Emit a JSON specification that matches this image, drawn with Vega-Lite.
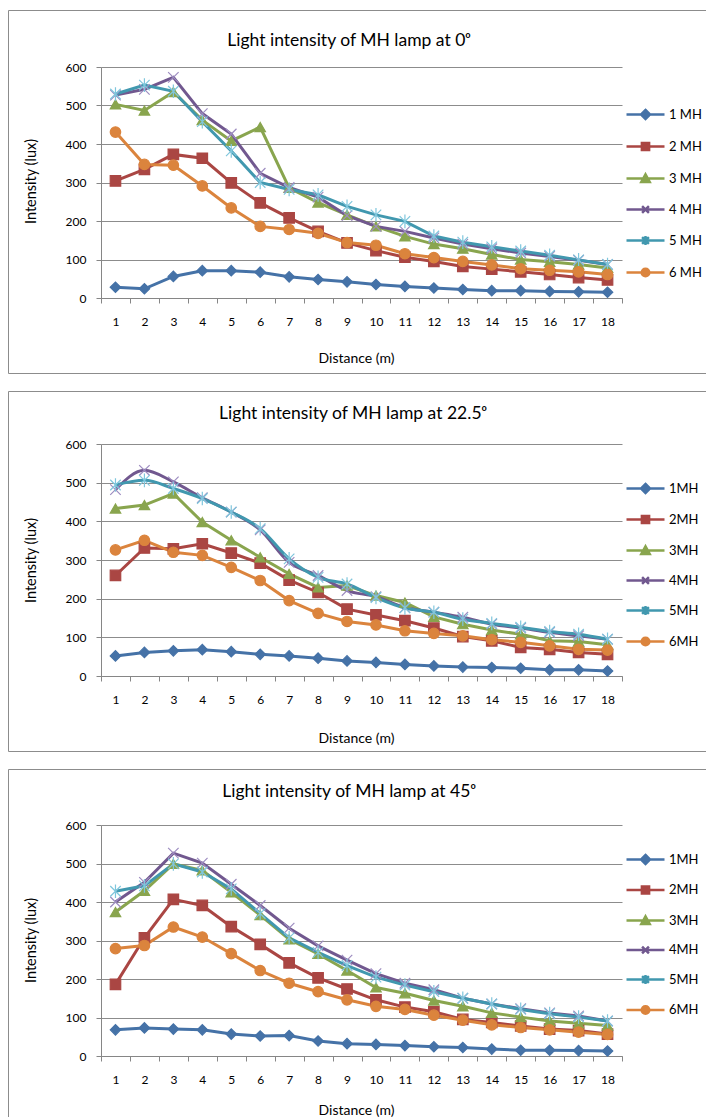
{
  "$schema": "https://vega.github.io/schema/vega-lite/v6.json",
  "background": "white",
  "padding": {"left": 7, "top": 9, "right": 0, "bottom": 0},
  "spacing": 16,
  "resolve": {"scale": {"x": "independent", "y": "independent", "color": "independent", "fill": "independent", "stroke": "independent", "shape": "independent"}},
  "config": {
    "view": {"stroke": "#8c8c8c", "strokeWidth": 1},
    "axis": {"domainColor": "#868686", "tickColor": "#868686", "gridColor": "#8c8c8c", "gridOpacity": 1, "labelFont": "Lato", "labelFontSize": 12, "labelColor": "#000", "titleFont": "Lato", "titleFontSize": 14, "titleFontWeight": "normal", "titleColor": "#000", "tickSize": 5},
    "legend": {"labelFont": "Lato", "labelFontSize": 13, "labelColor": "#000"},
    "title": {"font": "Lato", "fontSize": 17.5, "fontWeight": "normal", "color": "#000"}
  },
  "datasets": {
    "a0": [
      {"lamp":1,"dist":1,"lux":28},{"lamp":1,"dist":2,"lux":24},{"lamp":1,"dist":3,"lux":56},{"lamp":1,"dist":4,"lux":71},{"lamp":1,"dist":5,"lux":71},{"lamp":1,"dist":6,"lux":67},{"lamp":1,"dist":7,"lux":55},{"lamp":1,"dist":8,"lux":48},{"lamp":1,"dist":9,"lux":42},{"lamp":1,"dist":10,"lux":35},{"lamp":1,"dist":11,"lux":30},{"lamp":1,"dist":12,"lux":26},{"lamp":1,"dist":13,"lux":22},{"lamp":1,"dist":14,"lux":19},{"lamp":1,"dist":15,"lux":19},{"lamp":1,"dist":16,"lux":17},{"lamp":1,"dist":17,"lux":16},{"lamp":1,"dist":18,"lux":15},
      {"lamp":2,"dist":1,"lux":304},{"lamp":2,"dist":2,"lux":334},{"lamp":2,"dist":3,"lux":373},{"lamp":2,"dist":4,"lux":363},{"lamp":2,"dist":5,"lux":299},{"lamp":2,"dist":6,"lux":247},{"lamp":2,"dist":7,"lux":208},{"lamp":2,"dist":8,"lux":173},{"lamp":2,"dist":9,"lux":143},{"lamp":2,"dist":10,"lux":123},{"lamp":2,"dist":11,"lux":106},{"lamp":2,"dist":12,"lux":95},{"lamp":2,"dist":13,"lux":82},{"lamp":2,"dist":14,"lux":75},{"lamp":2,"dist":15,"lux":68},{"lamp":2,"dist":16,"lux":61},{"lamp":2,"dist":17,"lux":53},{"lamp":2,"dist":18,"lux":47},
      {"lamp":3,"dist":1,"lux":503},{"lamp":3,"dist":2,"lux":487},{"lamp":3,"dist":3,"lux":535},{"lamp":3,"dist":4,"lux":462},{"lamp":3,"dist":5,"lux":408},{"lamp":3,"dist":6,"lux":444},{"lamp":3,"dist":7,"lux":286},{"lamp":3,"dist":8,"lux":248},{"lamp":3,"dist":9,"lux":216},{"lamp":3,"dist":10,"lux":186},{"lamp":3,"dist":11,"lux":160},{"lamp":3,"dist":12,"lux":140},{"lamp":3,"dist":13,"lux":128},{"lamp":3,"dist":14,"lux":113},{"lamp":3,"dist":15,"lux":100},{"lamp":3,"dist":16,"lux":94},{"lamp":3,"dist":17,"lux":87},{"lamp":3,"dist":18,"lux":78},
      {"lamp":4,"dist":1,"lux":527},{"lamp":4,"dist":2,"lux":542},{"lamp":4,"dist":3,"lux":573},{"lamp":4,"dist":4,"lux":479},{"lamp":4,"dist":5,"lux":426},{"lamp":4,"dist":6,"lux":324},{"lamp":4,"dist":7,"lux":287},{"lamp":4,"dist":8,"lux":262},{"lamp":4,"dist":9,"lux":214},{"lamp":4,"dist":10,"lux":186},{"lamp":4,"dist":11,"lux":173},{"lamp":4,"dist":12,"lux":156},{"lamp":4,"dist":13,"lux":140},{"lamp":4,"dist":14,"lux":128},{"lamp":4,"dist":15,"lux":117},{"lamp":4,"dist":16,"lux":108},{"lamp":4,"dist":17,"lux":98},{"lamp":4,"dist":18,"lux":87},
      {"lamp":5,"dist":1,"lux":530},{"lamp":5,"dist":2,"lux":553},{"lamp":5,"dist":3,"lux":537},{"lamp":5,"dist":4,"lux":458},{"lamp":5,"dist":5,"lux":382},{"lamp":5,"dist":6,"lux":300},{"lamp":5,"dist":7,"lux":282},{"lamp":5,"dist":8,"lux":268},{"lamp":5,"dist":9,"lux":238},{"lamp":5,"dist":10,"lux":216},{"lamp":5,"dist":11,"lux":199},{"lamp":5,"dist":12,"lux":161},{"lamp":5,"dist":13,"lux":145},{"lamp":5,"dist":14,"lux":133},{"lamp":5,"dist":15,"lux":122},{"lamp":5,"dist":16,"lux":111},{"lamp":5,"dist":17,"lux":99},{"lamp":5,"dist":18,"lux":87},
      {"lamp":6,"dist":1,"lux":431},{"lamp":6,"dist":2,"lux":347},{"lamp":6,"dist":3,"lux":345},{"lamp":6,"dist":4,"lux":291},{"lamp":6,"dist":5,"lux":234},{"lamp":6,"dist":6,"lux":186},{"lamp":6,"dist":7,"lux":178},{"lamp":6,"dist":8,"lux":168},{"lamp":6,"dist":9,"lux":144},{"lamp":6,"dist":10,"lux":137},{"lamp":6,"dist":11,"lux":115},{"lamp":6,"dist":12,"lux":105},{"lamp":6,"dist":13,"lux":95},{"lamp":6,"dist":14,"lux":86},{"lamp":6,"dist":15,"lux":76},{"lamp":6,"dist":16,"lux":72},{"lamp":6,"dist":17,"lux":68},{"lamp":6,"dist":18,"lux":61}
    ],
    "a22": [
      {"lamp":1,"dist":1,"lux":52},{"lamp":1,"dist":2,"lux":61},{"lamp":1,"dist":3,"lux":65},{"lamp":1,"dist":4,"lux":68},{"lamp":1,"dist":5,"lux":63},{"lamp":1,"dist":6,"lux":56},{"lamp":1,"dist":7,"lux":52},{"lamp":1,"dist":8,"lux":46},{"lamp":1,"dist":9,"lux":39},{"lamp":1,"dist":10,"lux":35},{"lamp":1,"dist":11,"lux":30},{"lamp":1,"dist":12,"lux":26},{"lamp":1,"dist":13,"lux":23},{"lamp":1,"dist":14,"lux":22},{"lamp":1,"dist":15,"lux":20},{"lamp":1,"dist":16,"lux":16},{"lamp":1,"dist":17,"lux":16},{"lamp":1,"dist":18,"lux":13},
      {"lamp":2,"dist":1,"lux":260},{"lamp":2,"dist":2,"lux":331},{"lamp":2,"dist":3,"lux":329},{"lamp":2,"dist":4,"lux":342},{"lamp":2,"dist":5,"lux":318},{"lamp":2,"dist":6,"lux":292},{"lamp":2,"dist":7,"lux":248},{"lamp":2,"dist":8,"lux":216},{"lamp":2,"dist":9,"lux":173},{"lamp":2,"dist":10,"lux":158},{"lamp":2,"dist":11,"lux":143},{"lamp":2,"dist":12,"lux":124},{"lamp":2,"dist":13,"lux":102},{"lamp":2,"dist":14,"lux":91},{"lamp":2,"dist":15,"lux":74},{"lamp":2,"dist":16,"lux":69},{"lamp":2,"dist":17,"lux":61},{"lamp":2,"dist":18,"lux":56},
      {"lamp":3,"dist":1,"lux":433},{"lamp":3,"dist":2,"lux":442},{"lamp":3,"dist":3,"lux":472},{"lamp":3,"dist":4,"lux":398},{"lamp":3,"dist":5,"lux":351},{"lamp":3,"dist":6,"lux":307},{"lamp":3,"dist":7,"lux":264},{"lamp":3,"dist":8,"lux":229},{"lamp":3,"dist":9,"lux":234},{"lamp":3,"dist":10,"lux":208},{"lamp":3,"dist":11,"lux":190},{"lamp":3,"dist":12,"lux":153},{"lamp":3,"dist":13,"lux":134},{"lamp":3,"dist":14,"lux":119},{"lamp":3,"dist":15,"lux":108},{"lamp":3,"dist":16,"lux":91},{"lamp":3,"dist":17,"lux":89},{"lamp":3,"dist":18,"lux":81},
      {"lamp":4,"dist":1,"lux":482},{"lamp":4,"dist":2,"lux":532},{"lamp":4,"dist":3,"lux":502},{"lamp":4,"dist":4,"lux":461},{"lamp":4,"dist":5,"lux":424},{"lamp":4,"dist":6,"lux":378},{"lamp":4,"dist":7,"lux":294},{"lamp":4,"dist":8,"lux":260},{"lamp":4,"dist":9,"lux":221},{"lamp":4,"dist":10,"lux":205},{"lamp":4,"dist":11,"lux":177},{"lamp":4,"dist":12,"lux":165},{"lamp":4,"dist":13,"lux":152},{"lamp":4,"dist":14,"lux":134},{"lamp":4,"dist":15,"lux":124},{"lamp":4,"dist":16,"lux":113},{"lamp":4,"dist":17,"lux":104},{"lamp":4,"dist":18,"lux":95},
      {"lamp":5,"dist":1,"lux":494},{"lamp":5,"dist":2,"lux":506},{"lamp":5,"dist":3,"lux":485},{"lamp":5,"dist":4,"lux":459},{"lamp":5,"dist":5,"lux":424},{"lamp":5,"dist":6,"lux":381},{"lamp":5,"dist":7,"lux":303},{"lamp":5,"dist":8,"lux":255},{"lamp":5,"dist":9,"lux":238},{"lamp":5,"dist":10,"lux":203},{"lamp":5,"dist":11,"lux":176},{"lamp":5,"dist":12,"lux":165},{"lamp":5,"dist":13,"lux":147},{"lamp":5,"dist":14,"lux":136},{"lamp":5,"dist":15,"lux":126},{"lamp":5,"dist":16,"lux":115},{"lamp":5,"dist":17,"lux":108},{"lamp":5,"dist":18,"lux":95},
      {"lamp":6,"dist":1,"lux":326},{"lamp":6,"dist":2,"lux":351},{"lamp":6,"dist":3,"lux":320},{"lamp":6,"dist":4,"lux":312},{"lamp":6,"dist":5,"lux":281},{"lamp":6,"dist":6,"lux":247},{"lamp":6,"dist":7,"lux":195},{"lamp":6,"dist":8,"lux":162},{"lamp":6,"dist":9,"lux":141},{"lamp":6,"dist":10,"lux":132},{"lamp":6,"dist":11,"lux":117},{"lamp":6,"dist":12,"lux":110},{"lamp":6,"dist":13,"lux":104},{"lamp":6,"dist":14,"lux":94},{"lamp":6,"dist":15,"lux":87},{"lamp":6,"dist":16,"lux":78},{"lamp":6,"dist":17,"lux":69},{"lamp":6,"dist":18,"lux":67}
    ],
    "a45": [
      {"lamp":1,"dist":1,"lux":68},{"lamp":1,"dist":2,"lux":73},{"lamp":1,"dist":3,"lux":70},{"lamp":1,"dist":4,"lux":68},{"lamp":1,"dist":5,"lux":57},{"lamp":1,"dist":6,"lux":52},{"lamp":1,"dist":7,"lux":53},{"lamp":1,"dist":8,"lux":39},{"lamp":1,"dist":9,"lux":32},{"lamp":1,"dist":10,"lux":30},{"lamp":1,"dist":11,"lux":27},{"lamp":1,"dist":12,"lux":24},{"lamp":1,"dist":13,"lux":22},{"lamp":1,"dist":14,"lux":18},{"lamp":1,"dist":15,"lux":15},{"lamp":1,"dist":16,"lux":15},{"lamp":1,"dist":17,"lux":14},{"lamp":1,"dist":18,"lux":13},
      {"lamp":2,"dist":1,"lux":186},{"lamp":2,"dist":2,"lux":307},{"lamp":2,"dist":3,"lux":407},{"lamp":2,"dist":4,"lux":391},{"lamp":2,"dist":5,"lux":336},{"lamp":2,"dist":6,"lux":290},{"lamp":2,"dist":7,"lux":242},{"lamp":2,"dist":8,"lux":203},{"lamp":2,"dist":9,"lux":174},{"lamp":2,"dist":10,"lux":146},{"lamp":2,"dist":11,"lux":127},{"lamp":2,"dist":12,"lux":115},{"lamp":2,"dist":13,"lux":95},{"lamp":2,"dist":14,"lux":87},{"lamp":2,"dist":15,"lux":78},{"lamp":2,"dist":16,"lux":70},{"lamp":2,"dist":17,"lux":66},{"lamp":2,"dist":18,"lux":57},
      {"lamp":3,"dist":1,"lux":374},{"lamp":3,"dist":2,"lux":429},{"lamp":3,"dist":3,"lux":499},{"lamp":3,"dist":4,"lux":482},{"lamp":3,"dist":5,"lux":425},{"lamp":3,"dist":6,"lux":366},{"lamp":3,"dist":7,"lux":303},{"lamp":3,"dist":8,"lux":265},{"lamp":3,"dist":9,"lux":222},{"lamp":3,"dist":10,"lux":178},{"lamp":3,"dist":11,"lux":163},{"lamp":3,"dist":12,"lux":144},{"lamp":3,"dist":13,"lux":129},{"lamp":3,"dist":14,"lux":112},{"lamp":3,"dist":15,"lux":101},{"lamp":3,"dist":16,"lux":91},{"lamp":3,"dist":17,"lux":85},{"lamp":3,"dist":18,"lux":79},
      {"lamp":4,"dist":1,"lux":400},{"lamp":4,"dist":2,"lux":451},{"lamp":4,"dist":3,"lux":527},{"lamp":4,"dist":4,"lux":501},{"lamp":4,"dist":5,"lux":446},{"lamp":4,"dist":6,"lux":391},{"lamp":4,"dist":7,"lux":332},{"lamp":4,"dist":8,"lux":286},{"lamp":4,"dist":9,"lux":249},{"lamp":4,"dist":10,"lux":214},{"lamp":4,"dist":11,"lux":189},{"lamp":4,"dist":12,"lux":172},{"lamp":4,"dist":13,"lux":150},{"lamp":4,"dist":14,"lux":135},{"lamp":4,"dist":15,"lux":123},{"lamp":4,"dist":16,"lux":112},{"lamp":4,"dist":17,"lux":104},{"lamp":4,"dist":18,"lux":91},
      {"lamp":5,"dist":1,"lux":428},{"lamp":5,"dist":2,"lux":442},{"lamp":5,"dist":3,"lux":499},{"lamp":5,"dist":4,"lux":478},{"lamp":5,"dist":5,"lux":434},{"lamp":5,"dist":6,"lux":370},{"lamp":5,"dist":7,"lux":307},{"lamp":5,"dist":8,"lux":269},{"lamp":5,"dist":9,"lux":235},{"lamp":5,"dist":10,"lux":205},{"lamp":5,"dist":11,"lux":184},{"lamp":5,"dist":12,"lux":167},{"lamp":5,"dist":13,"lux":150},{"lamp":5,"dist":14,"lux":135},{"lamp":5,"dist":15,"lux":121},{"lamp":5,"dist":16,"lux":110},{"lamp":5,"dist":17,"lux":101},{"lamp":5,"dist":18,"lux":91},
      {"lamp":6,"dist":1,"lux":279},{"lamp":6,"dist":2,"lux":287},{"lamp":6,"dist":3,"lux":335},{"lamp":6,"dist":4,"lux":309},{"lamp":6,"dist":5,"lux":266},{"lamp":6,"dist":6,"lux":222},{"lamp":6,"dist":7,"lux":189},{"lamp":6,"dist":8,"lux":167},{"lamp":6,"dist":9,"lux":146},{"lamp":6,"dist":10,"lux":129},{"lamp":6,"dist":11,"lux":121},{"lamp":6,"dist":12,"lux":106},{"lamp":6,"dist":13,"lux":93},{"lamp":6,"dist":14,"lux":81},{"lamp":6,"dist":15,"lux":74},{"lamp":6,"dist":16,"lux":68},{"lamp":6,"dist":17,"lux":62},{"lamp":6,"dist":18,"lux":56}
    ]
  },
  "vconcat": [
    {
      "data": {"name": "a0"},
      "width": 698, "height": 363,
      "title": {"text": "Light intensity of MH lamp at 0ᵒ", "offset": -31, "dy": 17, "baseline": "middle", "anchor": "middle", "dx": -8},
      "resolve": {"scale": {"color": "independent", "stroke": "independent", "shape": "independent"}},
      "encoding": {
        "x": {"field": "dist", "type": "ordinal", "bandPosition": 0.5,
              "scale": {"type": "band", "range": [93, 614], "paddingInner": 0, "paddingOuter": 0},
              "axis": {"offset": -75, "title": "Distance (m)", "titleX": 348, "titleY": 60, "titleBaseline": "middle", "tickBand": "extent", "labelAngle": 0, "labelPadding": 13, "grid": false}},
        "y": {"field": "lux", "type": "quantitative",
              "scale": {"domain": [0, 600], "range": [288, 57]},
              "axis": {"offset": -93, "values": [0,100,200,300,400,500,600], "title": "Intensity (lux)", "titleFontSize": 14.5, "titleX": -70, "titleY": 171, "titleAngle": -90, "titleBaseline": "middle", "titleAlign": "center", "labelPadding": 10, "grid": true}}
      },
      "layer": [
        {"mark": {"type": "line", "strokeWidth": 3},
         "encoding": {"color": {"field": "lamp", "type": "nominal", "scale": {"domain": [1,2,3,4,5,6], "range": ["#4572A7","#AA4643","#89A54E","#71588F","#4198AF","#DB843D"]}, "legend": null}}},
        {"mark": {"type": "point", "filled": true, "size": 110, "strokeWidth": 1.2, "opacity": 1},
         "encoding": {
           "fill": {"field": "lamp", "type": "nominal", "scale": {"domain": [1,2,3,4,5,6], "range": ["#4572A7","#AA4643","#89A54E","#71588F","#4198AF","#DB843D"]}, "legend": null},
           "stroke": {"field": "lamp", "type": "nominal", "scale": {"domain": [1,2,3,4,5,6], "range": ["#4572A7","#AA4643","#89A54E","#9D8CC0","#7FC6DC","#DB843D"]}, "legend": null},
           "shape": {"field": "lamp", "type": "nominal", "scale": {"domain": [1,2,3,4,5,6], "range": ["diamond","square","triangle-up","M-1,-1L1,1M-1,1L1,-1","M-1,-1L1,1M-1,1L1,-1M0,-1.3L0,1.3","circle"]}, "legend": null}}},
        {"transform": [{"filter": "false"}],
         "mark": {"type": "point", "filled": true, "opacity": 1},
         "encoding": {
           "color": {"field": "lamp", "type": "nominal", "scale": {"domain": [1,2,3,4,5,6], "range": ["#4572A7","#AA4643","#89A54E","#71588F","#4198AF","#DB843D"]},
             "legend": {"orient": "none", "legendX": 626, "legendY": 93, "title": null, "padding": 0, "symbolSize": 400, "symbolStrokeWidth": 2.5, "rowPadding": 11, "labelOffset": 12, "labelExpr": "datum.value + ' MH'"}},
           "stroke": {"field": "lamp", "type": "nominal", "scale": {"domain": [1,2,3,4,5,6], "range": ["#4572A7","#AA4643","#89A54E","#71588F","#4198AF","#DB843D"]},
             "legend": {"orient": "none", "legendX": 626, "legendY": 93, "title": null, "padding": 0, "symbolSize": 400, "symbolStrokeWidth": 2.5, "rowPadding": 11, "labelOffset": 12, "labelExpr": "datum.value + ' MH'"}},
           "shape": {"field": "lamp", "type": "nominal", "scale": {"domain": [1,2,3,4,5,6], "range": ["M-1.9,0L1.9,0M0,-0.45L0.45,0L0,0.45L-0.45,0Z","M-1.9,0L1.9,0M-0.36,-0.36L0.36,-0.36L0.36,0.36L-0.36,0.36Z","M-1.9,0L1.9,0M0,-0.42L0.42,0.34L-0.42,0.34Z","M-1.9,0L1.9,0M-0.34,-0.34L0.34,0.34M-0.34,0.34L0.34,-0.34","M-1.9,0L1.9,0M-0.34,-0.34L0.34,0.34M-0.34,0.34L0.34,-0.34M0,-0.44L0,0.44","M-1.9,0L1.9,0M0.38,0A0.38,0.38 0 1,1 -0.38,0A0.38,0.38 0 1,1 0.38,0Z"]},
             "legend": {"orient": "none", "legendX": 626, "legendY": 93, "title": null, "padding": 0, "symbolSize": 400, "symbolStrokeWidth": 2.5, "rowPadding": 11, "labelOffset": 12, "labelExpr": "datum.value + ' MH'"}}}}
      ]
    },
    {
      "data": {"name": "a22"},
      "width": 698, "height": 360,
      "title": {"text": "Light intensity of MH lamp at 22.5ᵒ", "offset": -25, "dy": 15, "baseline": "middle", "anchor": "middle", "dx": -4},
      "resolve": {"scale": {"color": "independent", "stroke": "independent", "shape": "independent"}},
      "encoding": {
        "x": {"field": "dist", "type": "ordinal", "bandPosition": 0.5,
              "scale": {"type": "band", "range": [93, 614], "paddingInner": 0, "paddingOuter": 0},
              "axis": {"offset": -75, "title": "Distance (m)", "titleX": 348, "titleY": 62, "titleBaseline": "middle", "tickBand": "extent", "labelAngle": 0, "labelPadding": 13, "grid": false}},
        "y": {"field": "lux", "type": "quantitative",
              "scale": {"domain": [0, 600], "range": [285, 53]},
              "axis": {"offset": -93, "values": [0,100,200,300,400,500,600], "title": "Intensity (lux)", "titleFontSize": 14.5, "titleX": -70, "titleY": 169, "titleAngle": -90, "titleBaseline": "middle", "titleAlign": "center", "labelPadding": 10, "grid": true}}
      },
      "layer": [
        {"transform": [{"filter": "datum.lamp != 4 && datum.lamp != 5"}],
         "mark": {"type": "line", "strokeWidth": 3},
         "encoding": {"color": {"field": "lamp", "type": "nominal", "scale": {"domain": [1,2,3,4,5,6], "range": ["#4572A7","#AA4643","#89A54E","#71588F","#4198AF","#DB843D"]}, "legend": null}}},
        {"transform": [{"filter": "datum.lamp == 4 || datum.lamp == 5"}],
         "mark": {"type": "line", "strokeWidth": 3, "interpolate": "monotone"},
         "encoding": {"stroke": {"field": "lamp", "type": "nominal", "scale": {"domain": [1,2,3,4,5,6], "range": ["#4572A7","#AA4643","#89A54E","#71588F","#4198AF","#DB843D"]}, "legend": null}}},
        {"mark": {"type": "point", "filled": true, "size": 110, "strokeWidth": 1.2, "opacity": 1},
         "encoding": {
           "fill": {"field": "lamp", "type": "nominal", "scale": {"domain": [1,2,3,4,5,6], "range": ["#4572A7","#AA4643","#89A54E","#71588F","#4198AF","#DB843D"]}, "legend": null},
           "stroke": {"field": "lamp", "type": "nominal", "scale": {"domain": [1,2,3,4,5,6], "range": ["#4572A7","#AA4643","#89A54E","#9D8CC0","#7FC6DC","#DB843D"]}, "legend": null},
           "shape": {"field": "lamp", "type": "nominal", "scale": {"domain": [1,2,3,4,5,6], "range": ["diamond","square","triangle-up","M-1,-1L1,1M-1,1L1,-1","M-1,-1L1,1M-1,1L1,-1M0,-1.3L0,1.3","circle"]}, "legend": null}}},
        {"transform": [{"filter": "false"}],
         "mark": {"type": "point", "filled": true, "opacity": 1},
         "encoding": {
           "color": {"field": "lamp", "type": "nominal", "scale": {"domain": [1,2,3,4,5,6], "range": ["#4572A7","#AA4643","#89A54E","#71588F","#4198AF","#DB843D"]},
             "legend": {"orient": "none", "legendX": 626, "legendY": 86, "title": null, "padding": 0, "symbolSize": 400, "symbolStrokeWidth": 2.5, "rowPadding": 10, "labelOffset": 12, "labelExpr": "datum.value + 'MH'"}},
           "stroke": {"field": "lamp", "type": "nominal", "scale": {"domain": [1,2,3,4,5,6], "range": ["#4572A7","#AA4643","#89A54E","#71588F","#4198AF","#DB843D"]},
             "legend": {"orient": "none", "legendX": 626, "legendY": 86, "title": null, "padding": 0, "symbolSize": 400, "symbolStrokeWidth": 2.5, "rowPadding": 10, "labelOffset": 12, "labelExpr": "datum.value + 'MH'"}},
           "shape": {"field": "lamp", "type": "nominal", "scale": {"domain": [1,2,3,4,5,6], "range": ["M-1.9,0L1.9,0M0,-0.45L0.45,0L0,0.45L-0.45,0Z","M-1.9,0L1.9,0M-0.36,-0.36L0.36,-0.36L0.36,0.36L-0.36,0.36Z","M-1.9,0L1.9,0M0,-0.42L0.42,0.34L-0.42,0.34Z","M-1.9,0L1.9,0M-0.34,-0.34L0.34,0.34M-0.34,0.34L0.34,-0.34","M-1.9,0L1.9,0M-0.34,-0.34L0.34,0.34M-0.34,0.34L0.34,-0.34M0,-0.44L0,0.44","M-1.9,0L1.9,0M0.38,0A0.38,0.38 0 1,1 -0.38,0A0.38,0.38 0 1,1 0.38,0Z"]},
             "legend": {"orient": "none", "legendX": 626, "legendY": 86, "title": null, "padding": 0, "symbolSize": 400, "symbolStrokeWidth": 2.5, "rowPadding": 10, "labelOffset": 12, "labelExpr": "datum.value + 'MH'"}}}}
      ]
    },
    {
      "data": {"name": "a45"},
      "width": 698, "height": 360,
      "title": {"text": "Light intensity of MH lamp at 45ᵒ", "offset": -26, "dy": 14, "baseline": "middle", "anchor": "middle", "dx": -8},
      "resolve": {"scale": {"color": "independent", "stroke": "independent", "shape": "independent"}},
      "encoding": {
        "x": {"field": "dist", "type": "ordinal", "bandPosition": 0.5,
              "scale": {"type": "band", "range": [93, 614], "paddingInner": 0, "paddingOuter": 0},
              "axis": {"offset": -73, "title": "Distance (m)", "titleX": 348, "titleY": 54, "titleBaseline": "middle", "tickBand": "extent", "labelAngle": 0, "labelPadding": 13, "grid": false}},
        "y": {"field": "lux", "type": "quantitative",
              "scale": {"domain": [0, 600], "range": [287, 56]},
              "axis": {"offset": -93, "values": [0,100,200,300,400,500,600], "title": "Intensity (lux)", "titleFontSize": 14.5, "titleX": -70, "titleY": 171, "titleAngle": -90, "titleBaseline": "middle", "titleAlign": "center", "labelPadding": 10, "grid": true}}
      },
      "layer": [
        {"mark": {"type": "line", "strokeWidth": 3},
         "encoding": {"color": {"field": "lamp", "type": "nominal", "scale": {"domain": [1,2,3,4,5,6], "range": ["#4572A7","#AA4643","#89A54E","#71588F","#4198AF","#DB843D"]}, "legend": null}}},
        {"mark": {"type": "point", "filled": true, "size": 110, "strokeWidth": 1.2, "opacity": 1},
         "encoding": {
           "fill": {"field": "lamp", "type": "nominal", "scale": {"domain": [1,2,3,4,5,6], "range": ["#4572A7","#AA4643","#89A54E","#71588F","#4198AF","#DB843D"]}, "legend": null},
           "stroke": {"field": "lamp", "type": "nominal", "scale": {"domain": [1,2,3,4,5,6], "range": ["#4572A7","#AA4643","#89A54E","#9D8CC0","#7FC6DC","#DB843D"]}, "legend": null},
           "shape": {"field": "lamp", "type": "nominal", "scale": {"domain": [1,2,3,4,5,6], "range": ["diamond","square","triangle-up","M-1,-1L1,1M-1,1L1,-1","M-1,-1L1,1M-1,1L1,-1M0,-1.3L0,1.3","circle"]}, "legend": null}}},
        {"transform": [{"filter": "false"}],
         "mark": {"type": "point", "filled": true, "opacity": 1},
         "encoding": {
           "color": {"field": "lamp", "type": "nominal", "scale": {"domain": [1,2,3,4,5,6], "range": ["#4572A7","#AA4643","#89A54E","#71588F","#4198AF","#DB843D"]},
             "legend": {"orient": "none", "legendX": 626, "legendY": 79, "title": null, "padding": 0, "symbolSize": 400, "symbolStrokeWidth": 2.5, "rowPadding": 9.5, "labelOffset": 12, "labelExpr": "datum.value + 'MH'"}},
           "stroke": {"field": "lamp", "type": "nominal", "scale": {"domain": [1,2,3,4,5,6], "range": ["#4572A7","#AA4643","#89A54E","#71588F","#4198AF","#DB843D"]},
             "legend": {"orient": "none", "legendX": 626, "legendY": 79, "title": null, "padding": 0, "symbolSize": 400, "symbolStrokeWidth": 2.5, "rowPadding": 9.5, "labelOffset": 12, "labelExpr": "datum.value + 'MH'"}},
           "shape": {"field": "lamp", "type": "nominal", "scale": {"domain": [1,2,3,4,5,6], "range": ["M-1.9,0L1.9,0M0,-0.45L0.45,0L0,0.45L-0.45,0Z","M-1.9,0L1.9,0M-0.36,-0.36L0.36,-0.36L0.36,0.36L-0.36,0.36Z","M-1.9,0L1.9,0M0,-0.42L0.42,0.34L-0.42,0.34Z","M-1.9,0L1.9,0M-0.34,-0.34L0.34,0.34M-0.34,0.34L0.34,-0.34","M-1.9,0L1.9,0M-0.34,-0.34L0.34,0.34M-0.34,0.34L0.34,-0.34M0,-0.44L0,0.44","M-1.9,0L1.9,0M0.38,0A0.38,0.38 0 1,1 -0.38,0A0.38,0.38 0 1,1 0.38,0Z"]},
             "legend": {"orient": "none", "legendX": 626, "legendY": 79, "title": null, "padding": 0, "symbolSize": 400, "symbolStrokeWidth": 2.5, "rowPadding": 9.5, "labelOffset": 12, "labelExpr": "datum.value + 'MH'"}}}}
      ]
    }
  ]
}
